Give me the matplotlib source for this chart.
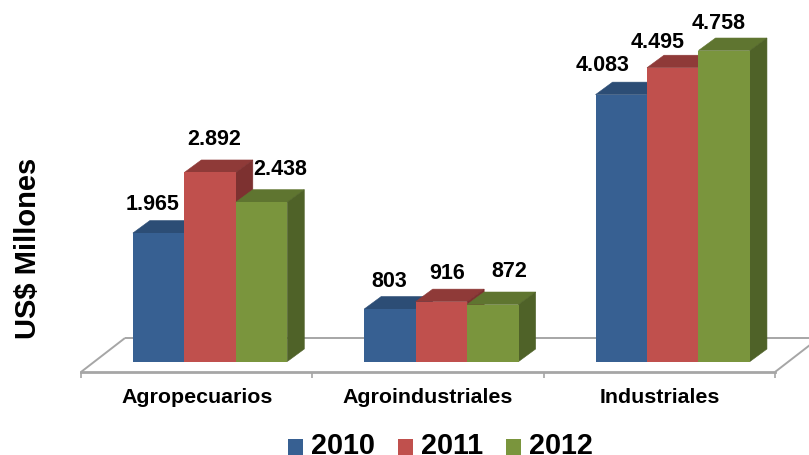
import matplotlib
matplotlib.use("Agg")
import matplotlib.pyplot as plt
from matplotlib.patches import Polygon, Rectangle
from matplotlib.legend_handler import HandlerPatch

plt.rcParams['font.family'] = ['Liberation Sans', 'DejaVu Sans']

categories = ['Agropecuarios', 'Agroindustriales', 'Industriales']
years = ['2010', '2011', '2012']
values_2010 = [1965, 803, 4083]
values_2011 = [2892, 916, 4495]
values_2012 = [2438, 872, 4758]
value_labels_2010 = ['1.965', '803', '4.083']
value_labels_2011 = ['2.892', '916', '4.495']
value_labels_2012 = ['2.438', '872', '4.758']

front_colors = ['#376092', '#C0504D', '#7A953D']
top_colors = ['#2C4D75', '#8F3A38', '#5F7530']
side_colors = ['#2C4D75', '#7D3130', '#4F6228']

# label offsets from top centre of each bar, in pixels (hand placed in the original)
offsets_2010 = [(-6.5, 29.5), (-1, 28.5), (-18.5, 30)]
offsets_2011 = [(4, 34), (5.5, 29), (-15, 26)]
offsets_2012 = [(18.5, 33.5), (16, 34), (-5.5, 28)]

W, H = 809, 456
fig = plt.figure(figsize=(W / 100, H / 100), dpi=100)

# axes frame: floor front edge from x=81 to x=775, y=373
ax = fig.add_axes([81 / W, 1 - 373 / H, 694 / W, 358 / H])
ax.set_xlim(-0.5, 2.5)
px_per_value = 0.06536
ax.set_ylim(-10.5 / px_per_value, 347.5 / px_per_value)

bar_w = 0.2225
depth_x = 17 / 231.33
depth_y = 12.5 / px_per_value
group_shift = 0.058

floor_x = 44 / 231.33
floor_y = 34 / px_per_value
y0 = ax.get_ylim()[0]
gray = '#A6A6A6'
floor_kw = dict(color=gray, lw=1.4, clip_on=False, zorder=1, solid_capstyle='butt')
ax.plot([-0.5, -0.5 + floor_x], [y0, y0 + floor_y], **floor_kw)
ax.plot([-0.5 + floor_x, 2.5 + floor_x], [y0 + floor_y, y0 + floor_y], **floor_kw)
ax.plot([2.5, 2.5 + floor_x], [y0, y0 + floor_y], **floor_kw)

series = [
    (values_2010, value_labels_2010, offsets_2010),
    (values_2011, value_labels_2011, offsets_2011),
    (values_2012, value_labels_2012, offsets_2012),
]

handles = []
for i in range(len(categories)):
    for j, (vals, labs, offs) in enumerate(series):
        x = i + group_shift + (j - 1) * bar_w
        v = vals[i]
        left, right = x - bar_w / 2, x + bar_w / 2
        z = 2 + i * 3 + j * 0.1
        # top and side first, with a hairline edge so no white seam shows
        ax.add_patch(Polygon([(left, v), (right, v), (right + depth_x, v + depth_y), (left + depth_x, v + depth_y)],
                             fc=top_colors[j], ec=top_colors[j], lw=0.4, zorder=z, clip_on=False))
        ax.add_patch(Polygon([(right, 0), (right + depth_x, depth_y), (right + depth_x, v + depth_y), (right, v)],
                             fc=side_colors[j], ec=side_colors[j], lw=0.4, zorder=z, clip_on=False))
        b = ax.bar(x, v, width=bar_w, color=front_colors[j], zorder=z + 0.01)
        if i == 0:
            handles.append(b[0])
        ax.annotate(labs[i], xy=(x, v), xytext=offs[i], textcoords='offset pixels',
                    ha='center', va='center', fontsize=15.5, fontweight='bold', color='black', zorder=30)

for s in ['top', 'left', 'right']:
    ax.spines[s].set_visible(False)
ax.spines['bottom'].set_color(gray)
ax.spines['bottom'].set_linewidth(2)
ax.set_yticks([])
ax.set_xticks(range(len(categories)))
ax.set_xticklabels(categories, fontsize=15.4, fontweight='bold')
ax.tick_params(axis='x', which='major', length=0, pad=11)
ax.set_xticks([-0.5, 0.5, 1.5, 2.5], minor=True)
ax.tick_params(axis='x', which='minor', length=4, width=1.2, color=gray)

ax.set_ylabel('US$ Millones', fontsize=21, fontweight='bold')
ax.yaxis.set_label_coords((42 - 81) / 694, (373 - 248) / 358)


def low_square(legend, orig_handle, xdescent, ydescent, width, height, fontsize):
    # squares sit lower than the digits in the original
    return Rectangle((-xdescent, -ydescent - 3), width, height)


fig.legend(handles, years, loc='center', bbox_to_anchor=(440.4 / W, 1 - 446 / H), ncol=3, frameon=False,
           prop=dict(size=20.7, weight='bold'), handlelength=0.52, handleheight=0.52,
           handletextpad=0.28, columnspacing=0.80, borderpad=0, borderaxespad=0,
           handler_map={h: HandlerPatch(patch_func=low_square) for h in handles})

fig.savefig('out.png', dpi=100)
